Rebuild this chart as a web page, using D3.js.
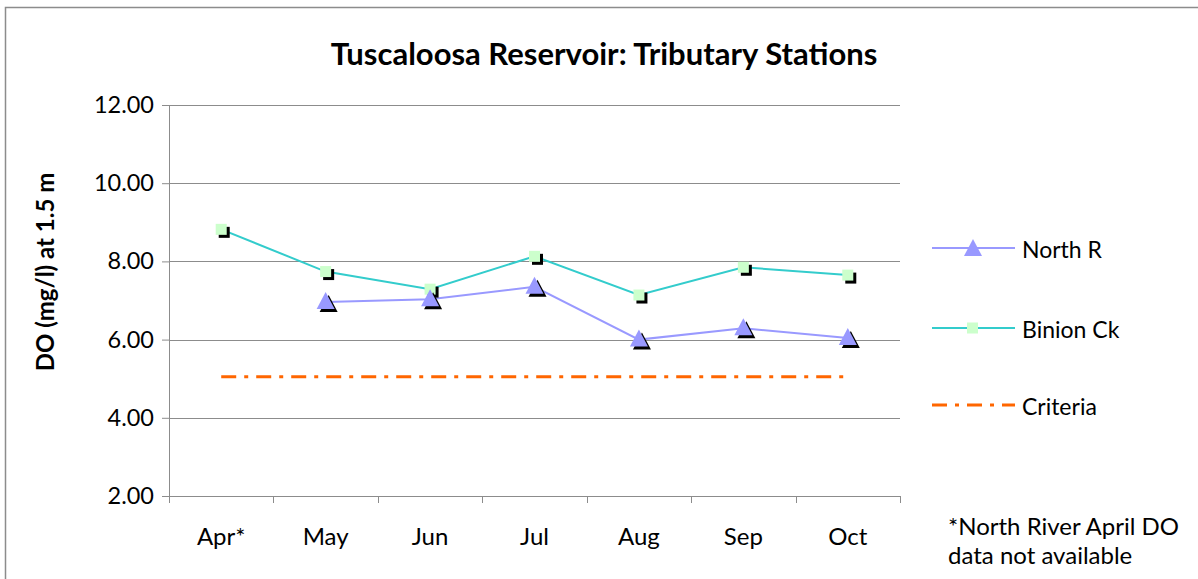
<!DOCTYPE html>
<html lang="en">
<head>
<meta charset="UTF-8">
<title>Tuscaloosa Reservoir: Tributary Stations</title>
<script src="https://d3js.org/d3.v7.min.js"></script>
<style>
  body { margin: 0; background: #fff; }
  svg { display: block; font-family: Lato, "Open Sans", sans-serif; }
</style>
</head>
<body>
<div id="chart"></div>
<script>
// chart data
var months = ["Apr*", "May", "Jun", "Jul", "Aug", "Sep", "Oct"];
var northR = [null, 6.96, 7.03, 7.35, 6.0, 6.29, 6.04];
var binionCk = [8.82, 7.74, 7.29, 8.13, 7.14, 7.85, 7.65];
var criteria = [5.05, 5.05, 5.05, 5.05, 5.05, 5.05, 5.05];
var yTicks = [2, 4, 6, 8, 10, 12];

var width = 1198, height = 579;
var margin = { top: 105, right: 298, bottom: 83, left: 169 };
var plotW = width - margin.left - margin.right;
var plotH = height - margin.top - margin.bottom;

var svg = d3.select("#chart").append("svg")
    .attr("width", width)
    .attr("height", height);

// outer chart border
svg.append("rect")
    .attr("x", 5.5).attr("y", 7.5)
    .attr("width", 1300).attr("height", 700)
    .attr("fill", "none")
    .attr("stroke", "#8c8c8c")
    .attr("stroke-width", 1.5);

var g = svg.append("g")
    .attr("transform", "translate(" + margin.left + "," + margin.top + ")");

var x = d3.scaleBand().domain(months).range([0, plotW]);
var y = d3.scaleLinear().domain([2, 12]).range([plotH, 0]);
var cx = function(m) { return x(m) + x.bandwidth() / 2; };

// gridlines
g.selectAll(".grid")
    .data(yTicks)
    .enter().append("line")
    .attr("x1", 0).attr("x2", plotW)
    .attr("y1", function(d) { return Math.round(y(d)) + 0.5; })
    .attr("y2", function(d) { return Math.round(y(d)) + 0.5; })
    .attr("stroke", "#8c8c8c");

// y axis
var yAxis = g.append("g")
    .call(d3.axisLeft(y).tickValues(yTicks).tickFormat(d3.format(".2f")).tickSize(7).tickPadding(8));
yAxis.select(".domain").attr("stroke", "#8c8c8c");
yAxis.selectAll(".tick line").attr("stroke", "#8c8c8c");
yAxis.selectAll("text").attr("font-size", 23.5).attr("fill", "#000")
    .attr("font-family", "Lato, sans-serif");

// x axis, ticks at band edges
var xAxis = g.append("g")
    .attr("transform", "translate(0," + plotH + ")")
    .call(d3.axisBottom(x).tickSize(0).tickPadding(32));
xAxis.select(".domain").attr("stroke", "#8c8c8c");
xAxis.selectAll("text").attr("font-size", 24).attr("fill", "#000")
    .attr("font-family", "Lato, sans-serif");
g.selectAll(".xtick")
    .data(months.concat(["_end"]))
    .enter().append("line")
    .attr("x1", function(d, i) { return Math.round(i * x.bandwidth()) + 0.5; })
    .attr("x2", function(d, i) { return Math.round(i * x.bandwidth()) + 0.5; })
    .attr("y1", plotH).attr("y2", plotH + 7)
    .attr("stroke", "#8c8c8c");

// criteria line
var critLine = d3.line()
    .x(function(d, i) { return cx(months[i]); })
    .y(function(d) { return y(d); });
g.append("path")
    .datum(criteria)
    .attr("d", critLine)
    .attr("fill", "none")
    .attr("stroke", "#ff6600")
    .attr("stroke-width", 3)
    .attr("stroke-dasharray", "15,8,4,8");

// series lines
var seriesLine = d3.line()
    .defined(function(d) { return d != null; })
    .x(function(d, i) { return cx(months[i]); })
    .y(function(d) { return y(d); });

g.append("path")
    .datum(binionCk)
    .attr("d", seriesLine)
    .attr("fill", "none")
    .attr("stroke", "#33cccc")
    .attr("stroke-width", 2);

g.append("path")
    .datum(northR)
    .attr("d", seriesLine)
    .attr("fill", "none")
    .attr("stroke", "#9999ff")
    .attr("stroke-width", 2);

// markers with shadow
var tri = "M0,-10L9,7L-9,7Z";
var nrPts = northR.map(function(d, i) { return { m: months[i], v: d }; })
    .filter(function(d) { return d.v != null; });
var bcPts = binionCk.map(function(d, i) { return { m: months[i], v: d }; });

g.selectAll(".sqShadow").data(bcPts).enter().append("rect")
    .attr("x", function(d) { return cx(d.m) - 5.5 + 3; })
    .attr("y", function(d) { return y(d.v) - 5.5 + 3; })
    .attr("width", 11).attr("height", 11)
    .attr("fill", "#000");
g.selectAll(".sq").data(bcPts).enter().append("rect")
    .attr("x", function(d) { return cx(d.m) - 5.5; })
    .attr("y", function(d) { return y(d.v) - 5.5; })
    .attr("width", 11).attr("height", 11)
    .attr("fill", "#ccffcc");

g.selectAll(".triShadow").data(nrPts).enter().append("path")
    .attr("d", tri)
    .attr("transform", function(d) { return "translate(" + (cx(d.m) + 3) + "," + (y(d.v) + 3) + ")"; })
    .attr("fill", "#000");
g.selectAll(".tri").data(nrPts).enter().append("path")
    .attr("d", tri)
    .attr("transform", function(d) { return "translate(" + cx(d.m) + "," + y(d.v) + ")"; })
    .attr("fill", "#9999ff");

// title
svg.append("text")
    .attr("x", 604).attr("y", 65)
    .attr("text-anchor", "middle")
    .attr("font-size", 31).attr("font-weight", "bold")
    .text("Tuscaloosa Reservoir: Tributary Stations");

// y label
svg.append("text")
    .attr("transform", "translate(54,272) rotate(-90)")
    .attr("text-anchor", "middle")
    .attr("font-size", 24).attr("font-weight", "bold")
    .text("DO (mg/l) at 1.5 m");

// legend
var legendItems = [
  { name: "North R", color: "#9999ff", y: 248, type: "tri" },
  { name: "Binion Ck", color: "#33cccc", y: 328, type: "sq" },
  { name: "Criteria", color: "#ff6600", y: 405, type: "crit" }
];
var legend = svg.append("g");
legendItems.forEach(function(d) {
  var line = legend.append("line")
      .attr("x1", 932).attr("x2", 1015)
      .attr("y1", d.y).attr("y2", d.y)
      .attr("stroke", d.color);
  if (d.type === "crit") {
    line.attr("stroke-width", 3).attr("stroke-dasharray", "15,8,4,8");
  } else {
    line.attr("stroke-width", 2);
  }
  if (d.type === "tri") {
    legend.append("path").attr("d", tri)
        .attr("transform", "translate(973," + (d.y + 1) + ")")
        .attr("fill", d.color);
  }
  if (d.type === "sq") {
    legend.append("rect")
        .attr("x", 967).attr("y", d.y - 5.5)
        .attr("width", 11).attr("height", 11)
        .attr("fill", "#ccffcc");
  }
  legend.append("text")
      .attr("x", 1022).attr("y", d.y + 10)
      .attr("font-size", 23)
      .text(d.name);
});

// footnote
svg.append("text")
    .attr("x", 948).attr("y", 535)
    .attr("font-size", 24)
    .text("*North River April DO");
svg.append("text")
    .attr("x", 948).attr("y", 564)
    .attr("font-size", 24)
    .text("data not available");
</script>
</body>
</html>
